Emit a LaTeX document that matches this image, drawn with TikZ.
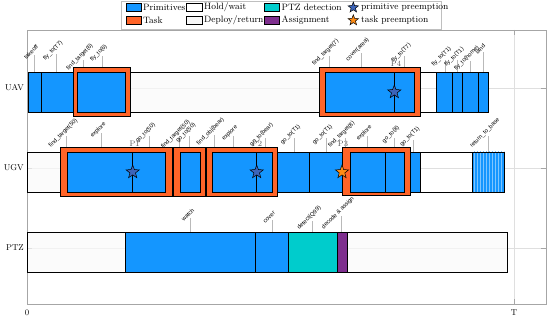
\documentclass[tikz,border=0pt]{standalone}
\usepackage{fontspec}
\newfontfamily\lblfont{Liberation Sans}
\usetikzlibrary{shapes.geometric,patterns}

\definecolor{primblue}{RGB}{20,150,255}
\definecolor{taskorange}{RGB}{255,100,40}
\definecolor{detteal}{RGB}{0,204,204}
\definecolor{asgpurple}{RGB}{126,47,142}
\definecolor{pstarblue}{RGB}{60,100,185}
\definecolor{tstarorange}{RGB}{255,140,20}

\begin{document}
\begin{tikzpicture}[x=1pt,y=-1pt,
  every node/.style={font=\fontsize{8.5}{10}\selectfont},
  seg/.style={draw=black,line width=0.8pt},
  primseg/.style={seg,fill=primblue},
  holdseg/.style={seg},
  depseg/.style={seg,fill=gray!4,fill opacity=0.7},
  detseg/.style={seg,fill=detteal},
  asgseg/.style={seg,fill=asgpurple},
  taskbox/.style={draw=black,line width=1pt,fill=taskorange},
  stem/.style={gray!55,line width=0.7pt},
  lbl/.style={rotate=45,anchor=south,inner sep=2pt,font=\lblfont\fontsize{5.8}{6}\selectfont},
  pmark/.style={star,star points=5,star point ratio=2.4,minimum size=14pt,inner sep=0pt,draw=black,line width=0.5pt},
  plbl/.style={text=black!65,font=\fontsize{8}{9}\selectfont},
  swatch/.style={draw=black,line width=0.5pt},
  lgtxt/.style={anchor=west,inner sep=1pt,font=\fontsize{9.2}{11}\selectfont},
  grid/.style={gray!25,line width=0.5pt},
  axis/.style={gray!70,line width=0.6pt}]
  \useasboundingbox (0,0) rectangle (550,321);

  % grid and frame
  \foreach \gy in {88,168,248}
    \draw[grid] (27,\gy) -- (546,\gy);
  \draw[grid] (514,30) -- (514,304);
  \draw[axis] (27,30) rectangle (546,304);
  \foreach \gy in {88,168,248} {
    \draw[axis] (27,\gy) -- +(5,0);
    \draw[axis] (546,\gy) -- +(-5,0);
  }
  \draw[axis] (514,304) -- +(0,-5);
  \draw[axis] (514,30) -- +(0,5);
  \node[anchor=east,inner sep=1pt] (uav) at (25,88) {UAV};
  \node[anchor=east,inner sep=1pt] (ugv) at (25,168) {UGV};
  \node[anchor=east,inner sep=1pt] (ptz) at (25,248) {PTZ};
  \node (t0) at (27,313) {0};
  \node (tT) at (514,313) {T};

  % UAV
  \foreach \px/\py/\txt [count=\i] in {34/55/takeoff, 56.5/54/fly\_to(T7),
      83.3/60.5/find\_target(6), 102.3/56.5/fly\_to(6), 329/56/find\_target(7),
      361/53/cover(area), 404.7/56.5/fly\_to(T7), 445/60/fly\_to(T1),
      457.7/60.5/fly\_to(T1), 470.3/61.5/fly\_to(home), 483.3/52/land} {
    \coordinate (uavb\i) at (\px,72);
    \coordinate (uavt\i) at (\px,\py);
    \draw[stem] (uavb\i) -- (uavt\i);
    \node[lbl] (uavl\i) at (uavt\i) {\txt};
  }
  \draw[primseg] (28,72) rectangle (41,112);
  \draw[primseg] (41,72) rectangle (73,112);
  \draw[taskbox] (73,67.5) rectangle (130,116.5);
  \draw[primseg] (77.7,72) rectangle (125.7,112);
  \draw[depseg] (130,72) rectangle (319.3,112);
  \draw[taskbox] (319.3,67.5) rectangle (420,116.5);
  \draw[primseg] (325,72) rectangle (394.3,112);
  \draw[primseg] (394.3,72) rectangle (414,112);
  \draw[holdseg] (420,72) rectangle (436.3,112);
  \foreach \a/\b in {436.3/452.7, 452.7/462.7, 462.7/478.7, 478.7/488.3}
    \draw[primseg] (\a,72) rectangle (\b,112);
  \node[pmark,fill=pstarblue] (pre4) at (394.3,92) {};
  \node[plbl] (p4) at (396,63.5) {P4};

  % UGV
  \foreach \px/\py/\txt [count=\i] in {66.7/136.5/find\_target(50), 101.7/133.5/explore,
      149/136.5/go\_to(50), 179/138/find\_target(50), 189.3/136.5/go\_to(50),
      214/135/find\_obj(bear), 233.3/136.5/explore, 265/138/go\_to(bear),
      294/138/go\_to(T1), 326/138/go\_to(T1), 345/138/find\_target(8),
      367.7/136.5/explore, 394.3/138/go\_to(8), 413.3/140/go\_to(T1),
      488.3/136.5/return\_to\_base} {
    \coordinate (ugvb\i) at (\px,152);
    \coordinate (ugvt\i) at (\px,\py);
    \draw[stem] (ugvb\i) -- (ugvt\i);
    \node[lbl] (ugvl\i) at (ugvt\i) {\txt};
  }
  \draw[depseg] (27.7,152) rectangle (60,192);
  \draw[taskbox] (60,147.5) rectangle (172.3,196.5);
  \draw[primseg] (67.7,152) rectangle (132.7,192);
  \draw[primseg] (132.7,152) rectangle (165.7,192);
  \draw[taskbox] (173.3,147.5) rectangle (205.7,196.5);
  \draw[primseg] (180,152) rectangle (200.3,192);
  \draw[taskbox] (206.7,147.5) rectangle (277.3,196.5);
  \draw[primseg] (212.3,152) rectangle (256.7,192);
  \draw[primseg] (256.7,152) rectangle (272,192);
  \draw[primseg] (277.3,152) rectangle (309.3,192);
  \draw[primseg] (309.3,152) rectangle (342.7,192);
  \draw[taskbox] (342.7,148) rectangle (410.7,196);
  \draw[primseg] (350,152) rectangle (385.7,192);
  \draw[primseg] (385.7,152) rectangle (404.7,192);
  \draw[primseg] (410.7,152) rectangle (420,192);
  \draw[holdseg] (420,152) rectangle (472.3,192);
  \draw[primseg] (472.3,152) rectangle (504.3,192);
  \fill[pattern=vertical lines,pattern color=primblue!55!white] (472.3,152) rectangle (504.3,192);
  \draw[seg] (472.3,152) rectangle (504.3,192);
  \node[pmark,fill=pstarblue] (pre1) at (132.7,172) {};
  \node[pmark,fill=pstarblue] (pre2) at (256.7,172) {};
  \node[pmark,fill=tstarorange] (pre3) at (342,172) {};
  \node[plbl] (p1) at (134.7,144) {P1};
  \node[plbl] (p2) at (257,144) {P2};
  \node[plbl] (p3) at (343,144) {P3};

  % PTZ
  \foreach \px/\py/\txt [count=\i] in {190.8/218/watch, 272/220/cover,
      312.7/221.5/detect(Q99), 341.5/216.5/decode \& assign} {
    \coordinate (ptzb\i) at (\px,232);
    \coordinate (ptzt\i) at (\px,\py);
    \draw[stem] (ptzb\i) -- (ptzt\i);
    \node[lbl] (ptzl\i) at (ptzt\i) {\txt};
  }
  \draw[depseg] (27.5,232) rectangle (125.7,272);
  \draw[primseg] (125.7,232) rectangle (255.6,272);
  \draw[primseg] (255.6,232) rectangle (288.7,272);
  \draw[detseg] (288.7,232) rectangle (337.3,272);
  \draw[asgseg] (337.3,232) rectangle (347.2,272);
  \draw[depseg] (347.2,232) rectangle (507,272);

  % legend
  \draw[gray!50,fill=white,line width=0.5pt] (121.5,1.5) rectangle (441,29.5);
  \draw[swatch,fill=primblue] (126.7,3.5) rectangle (141,11.5);
  \draw[swatch,fill=taskorange] (126.7,16) rectangle (141,24.5);
  \draw[swatch,fill=white] (186.7,3.5) rectangle (202,11.5);
  \draw[swatch,fill=gray!6] (186.7,16) rectangle (202,24.5);
  \draw[swatch,fill=detteal] (264,3.5) rectangle (279.3,11.5);
  \draw[swatch,fill=asgpurple] (264,16) rectangle (279.3,24.5);
  \node[pmark,minimum size=11pt,fill=pstarblue] (lgps) at (353.3,7.5) {};
  \node[pmark,minimum size=11pt,fill=tstarorange] (lgts) at (353.3,20.3) {};
  \node[lgtxt] (lgprim) at (142,7.5) {Primitives};
  \node[lgtxt] (lgtask) at (142,20.3) {Task};
  \node[lgtxt] (lghold) at (203,7.5) {Hold/wait};
  \node[lgtxt] (lgdep) at (203,20.3) {Deploy/return};
  \node[lgtxt] (lgdet) at (280.5,7.5) {PTZ detection};
  \node[lgtxt] (lgasg) at (280.5,20.3) {Assignment};
  \node[lgtxt] (lgpp) at (360,7.5) {primitive preemption};
  \node[lgtxt] (lgtp) at (360,20.3) {task preemption};
\end{tikzpicture}
\end{document}
